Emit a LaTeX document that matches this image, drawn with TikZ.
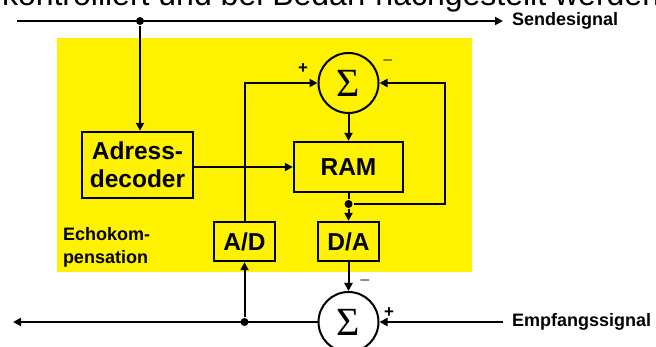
\documentclass[tikz,border=0pt]{standalone}
\usepackage{fontspec}
\setmainfont{Liberation Sans}
\newfontfamily\sigmafont{Liberation Serif}
\usetikzlibrary{arrows.meta}
\begin{document}
\begin{tikzpicture}[x=1pt,y=-1pt, line width=2pt,
  >={Triangle[length=8pt,width=8pt]},
  blk/.style={draw, line width=2.4pt, inner sep=0pt, align=center,
    font=\fontsize{24.5}{28}\selectfont\bfseries},
  sumc/.style={draw, circle, line width=2pt, inner sep=0pt, minimum size=60pt,
    font=\fontsize{40}{40}\selectfont\sigmafont},
  lbl/.style={inner sep=0pt, font=\fontsize{18}{23}\selectfont\bfseries},
  plus/.style={inner sep=0pt, font=\fontsize{17}{17}\selectfont\bfseries},
  minus/.style={inner sep=0pt, text=black!70, font=\fontsize{18}{18}\selectfont},
  dot/.style={circle, fill, inner sep=0pt, minimum size=8pt}
]
\useasboundingbox (0,0) rectangle (656,347);
\clip (0,0) rectangle (656,347);
\node[anchor=base west, inner sep=0pt, font=\fontsize{32}{32}\selectfont] (title) at (1,6) {kontrolliert und bei Bedarf nachgestellt werden};
\fill[yellow] (57,38) rectangle (472,272);
% blocks
\node[blk, minimum width=111pt, minimum height=66pt] (adr) at (137.5,165) {Adress-\\decoder};
\node[blk, minimum width=109pt, minimum height=50pt] (ram) at (348.5,167) {RAM};
\node[blk, minimum width=61pt, minimum height=39pt] (ad) at (244.5,241.5) {A/D};
\node[blk, minimum width=61pt, minimum height=39pt] (da) at (348.5,241.5) {D/A};
\node[sumc] (s1) at (348.5,83) {Σ};
\node[sumc, fill=white] (s2) at (348.5,322) {Σ};
% labels
\node[lbl, anchor=west] (send) at (511,21) {Sendesignal};
\node[lbl, anchor=west] (emp) at (511,322) {Empfangssignal};
\node[lbl, anchor=west, align=left] (echo) at (62,247) {Echokom-\\pensation};
\node[plus] (p1) at (303,69) {+};
\node[minus] (m1) at (388,63) {−};
\node[minus] (m2) at (365,283) {−};
\node[plus] (p2) at (389,313) {+};
% points
\coordinate (tl) at (17,21);
\coordinate (bl) at (13,322);
\coordinate (fb) at (445,204);
\node[dot] (d1) at (140,21) {};
\node[dot] (d2) at (348.5,204) {};
\node[dot] (d3) at (244.5,322) {};
% connectors
\draw[->] (tl) -- ([xshift=-8pt]send.west);
\draw[->] (d1) -- (d1 |- adr.north);
\draw[->] (adr.east |- ram.west) -- (ram.west);
\draw[->] (s1.south) -- (ram.north);
\draw (ram.south) -- (d2);
\draw[->] (d2) -- (da.north);
\draw[->] (d2) -- (fb) |- (s1.east);
\draw[->] (ad.north) |- (s1.west);
\draw[->] (da.south) -- (s2.north);
\draw[->] (s2.west) -- (bl);
\draw[->] (d3) -- (ad.south);
\draw[->] ([xshift=-8pt]emp.west) -- (s2.east);
\end{tikzpicture}
\end{document}
